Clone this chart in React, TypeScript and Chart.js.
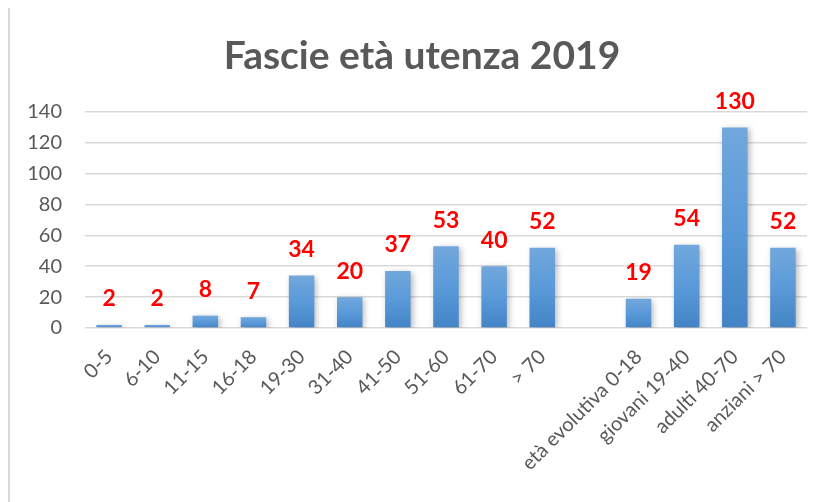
import React, { useEffect, useRef } from "react";
import { Chart, registerables } from "chart.js";

Chart.register(...registerables);

const categories = [
  "0-5", "6-10", "11-15", "16-18", "19-30", "31-40", "41-50", "51-60", "61-70", "> 70",
  "",
  "età evolutiva 0-18", "giovani 19-40", "adulti 40-70", "anziani > 70",
];
const values: (number | null)[] = [2, 2, 8, 7, 34, 20, 37, 53, 40, 52, null, 19, 54, 130, 52];
const yTicks = [0, 20, 40, 60, 80, 100, 120, 140];
const titleText = "Fascie età utenza 2019";

const FONT = "Lato, 'Open Sans', sans-serif";

const titlePlugin = {
  id: "customTitle",
  afterDraw(chart: any) {
    const ctx = chart.ctx;
    ctx.save();
    ctx.fillStyle = "#595959";
    ctx.font = `bold 39px ${FONT}`;
    ctx.textAlign = "center";
    ctx.textBaseline = "middle";
    ctx.fillText(titleText, 412, 48);
    ctx.restore();
  },
};

const shadowPlugin = {
  id: "barShadow",
  beforeDatasetsDraw(chart: any) {
    const ctx = chart.ctx;
    ctx.save();
    ctx.shadowColor = "rgba(0,0,0,0.28)";
    ctx.shadowBlur = 6;
    ctx.shadowOffsetX = 2;
    ctx.shadowOffsetY = 2;
  },
  afterDatasetsDraw(chart: any) {
    chart.ctx.restore();
  },
};

const labelPlugin = {
  id: "valueLabels",
  afterDraw(chart: any) {
    const ctx = chart.ctx;
    const meta = chart.getDatasetMeta(0);
    const data = chart.data.datasets[0].data;
    ctx.save();
    ctx.fillStyle = "#ff0000";
    ctx.font = `bold 23px ${FONT}`;
    ctx.textAlign = "center";
    ctx.textBaseline = "middle";
    meta.data.forEach((el: any, i: number) => {
      const v = data[i];
      if (v === null || v === undefined) return;
      ctx.fillText(String(v), el.x, el.y - 26);
    });
    ctx.restore();
  },
};

export default function App() {
  const ref = useRef<HTMLCanvasElement>(null);
  useEffect(() => {
    if (!ref.current) return;
    const chart = new Chart(ref.current, {
      type: "bar",
      data: {
        labels: categories,
        datasets: [
          {
            data: values,
            backgroundColor: (c: any) => {
              const ch = c.chart;
              const y = ch.scales && ch.scales.y;
              const v = c.raw;
              if (!y || v === null || v === undefined || !ch.chartArea) return "#5b9bd5";
              const top = y.getPixelForValue(v);
              const bot = y.getPixelForValue(0);
              const g = ch.ctx.createLinearGradient(0, top, 0, bot);
              g.addColorStop(0, "#72a7dc");
              g.addColorStop(0.5, "#5a9ad9");
              g.addColorStop(1, "#4384c6");
              return g;
            },
            borderWidth: 0,
            barPercentage: 0.53,
            categoryPercentage: 1,
          },
        ],
      },
      options: {
        animation: false,
        responsive: false,
        maintainAspectRatio: false,
        layout: { padding: { left: 0, right: 16, top: 104, bottom: 0 } },
        plugins: {
          legend: { display: false },
          tooltip: { enabled: false },
          title: { display: false },
        },
        scales: {
          x: {
            grid: { display: false, drawTicks: false },
            border: { display: false },
            ticks: {
              autoSkip: false,
              maxRotation: 45,
              minRotation: 45,
              color: "#595959",
              font: { family: FONT, size: 20 },
              padding: 17,
            },
            afterFit: (s: any) => {
              s.height = 174;
            },
          },
          y: {
            min: 0,
            max: 140,
            afterBuildTicks: (s: any) => {
              s.ticks = yTicks.map((v) => ({ value: v }));
            },
            grid: { color: "#d9d9d9", lineWidth: 1.6, drawTicks: false },
            border: { display: false },
            ticks: {
              color: "#595959",
              font: { family: FONT, size: 20 },
              padding: 23,
            },
            afterFit: (s: any) => {
              s.width = 75;
            },
          },
        },
      },
      plugins: [shadowPlugin, labelPlugin, titlePlugin],
    });
    return () => chart.destroy();
  }, []);

  return (
    <div
      style={{
        marginTop: -2,
        width: 830,
        height: 510,
        borderLeft: "2px solid #d9d9d9",
        borderTop: "2px solid #d9d9d9",
        overflow: "hidden",
        background: "#fff",
      }}
    >
      <canvas ref={ref} width={813} height={494} style={{ display: "block" }} />
    </div>
  );
}
